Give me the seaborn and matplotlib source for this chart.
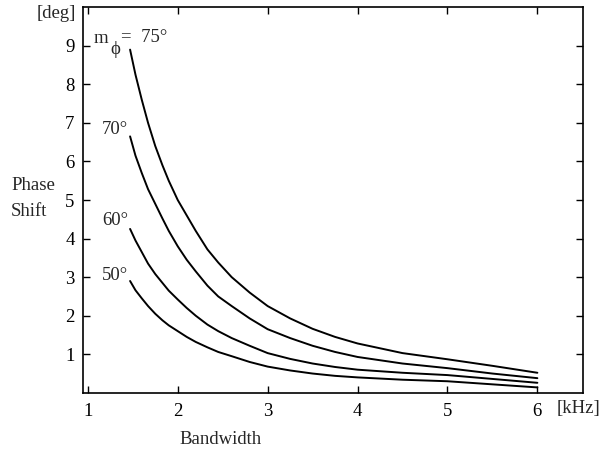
import numpy as np
import pandas as pd
import matplotlib
matplotlib.use("Agg")
import matplotlib.pyplot as plt
import seaborn as sns

# bandwidth [kHz] and phase shift [deg]
bw = [1.47, 1.53, 1.6, 1.67, 1.75, 1.83, 1.9, 2.0, 2.1, 2.2, 2.33, 2.45,
      2.6, 2.8, 3.0, 3.25, 3.5, 3.75, 4.0, 4.5, 5.0, 5.5, 6.0]
shift_75 = [8.9, 8.25, 7.6, 7.0, 6.4, 5.9, 5.5, 5.0, 4.6, 4.2, 3.72, 3.38,
            3.0, 2.6, 2.25, 1.93, 1.66, 1.45, 1.28, 1.03, 0.87, 0.7, 0.52]
shift_70 = [6.65, 6.15, 5.7, 5.28, 4.9, 4.52, 4.2, 3.8, 3.45, 3.15, 2.78, 2.5,
            2.25, 1.93, 1.65, 1.42, 1.22, 1.06, 0.93, 0.76, 0.64, 0.5, 0.38]
shift_60 = [4.25, 3.95, 3.65, 3.35, 3.08, 2.85, 2.65, 2.42, 2.2, 2.0, 1.77, 1.6,
            1.42, 1.22, 1.03, 0.88, 0.76, 0.67, 0.6, 0.52, 0.46, 0.36, 0.26]
shift_50 = [2.9, 2.66, 2.45, 2.25, 2.05, 1.88, 1.75, 1.6, 1.45, 1.32, 1.18, 1.06,
            0.95, 0.8, 0.68, 0.58, 0.5, 0.44, 0.4, 0.34, 0.3, 0.22, 0.14]
margins = ["75", "70", "60", "50"]

df = pd.DataFrame({
    "bw": bw * 4,
    "shift": shift_75 + shift_70 + shift_60 + shift_50,
    "margin": np.repeat(margins, len(bw)),
})

sns.set_style("ticks")
plt.rcParams["font.family"] = ["Liberation Serif", "DejaVu Serif"]

fig = plt.figure(figsize=(6.05, 4.51), dpi=100)
ax = fig.add_axes([0.137, 0.129, 0.827, 0.855])

sns.lineplot(data=df, x="bw", y="shift", hue="margin", units="margin",
             estimator=None, palette=["black"] * 4, linewidth=1.4,
             legend=False, ax=ax)

ax.set_xlim(0.945, 6.51)
ax.set_ylim(0, 10)
ax.set_xticks([1, 2, 3, 4, 5, 6])
ax.set_yticks([1, 2, 3, 4, 5, 6, 7, 8, 9])
ax.tick_params(direction="in", top=True, right=True, length=5, width=1,
               labelsize=13.5, colors="black")
ax.tick_params(axis="x", pad=7)
ax.tick_params(axis="y", pad=6)
for s in ax.spines.values():
    s.set_linewidth(1.2)
    s.set_color("black")
ax.set_xlabel("")
ax.set_ylabel("")

fs = 13.5
# curve labels
ax.text(1.06, 9.2, "m", fontsize=fs, va="center")
ax.text(1.25, 8.9, "\u03d5", fontsize=fs, va="center")
ax.text(1.37, 9.22, "=  75\u00b0", fontsize=fs, va="center")
ax.text(1.16, 6.84, "70\u00b0", fontsize=fs, va="center")
ax.text(1.16, 4.48, "60\u00b0", fontsize=fs, va="center")
ax.text(1.16, 3.05, "50\u00b0", fontsize=fs, va="center")

# axis labels placed like the original
fig.text(56 / 605, 1 - 14 / 451, "[deg]", fontsize=fs, ha="center", va="center")
fig.text(11 / 605, 1 - 185 / 451, "Phase", fontsize=fs, ha="left", va="center")
fig.text(11 / 605, 1 - 212 / 451, "Shift", fontsize=fs, ha="left", va="center")
fig.text(578 / 605, 1 - 409 / 451, "[kHz]", fontsize=fs, ha="center", va="center")
fig.text(221 / 605, 1 - 440 / 451, "Bandwidth", fontsize=fs, ha="center", va="center")

fig.savefig("out.png", dpi=100)
